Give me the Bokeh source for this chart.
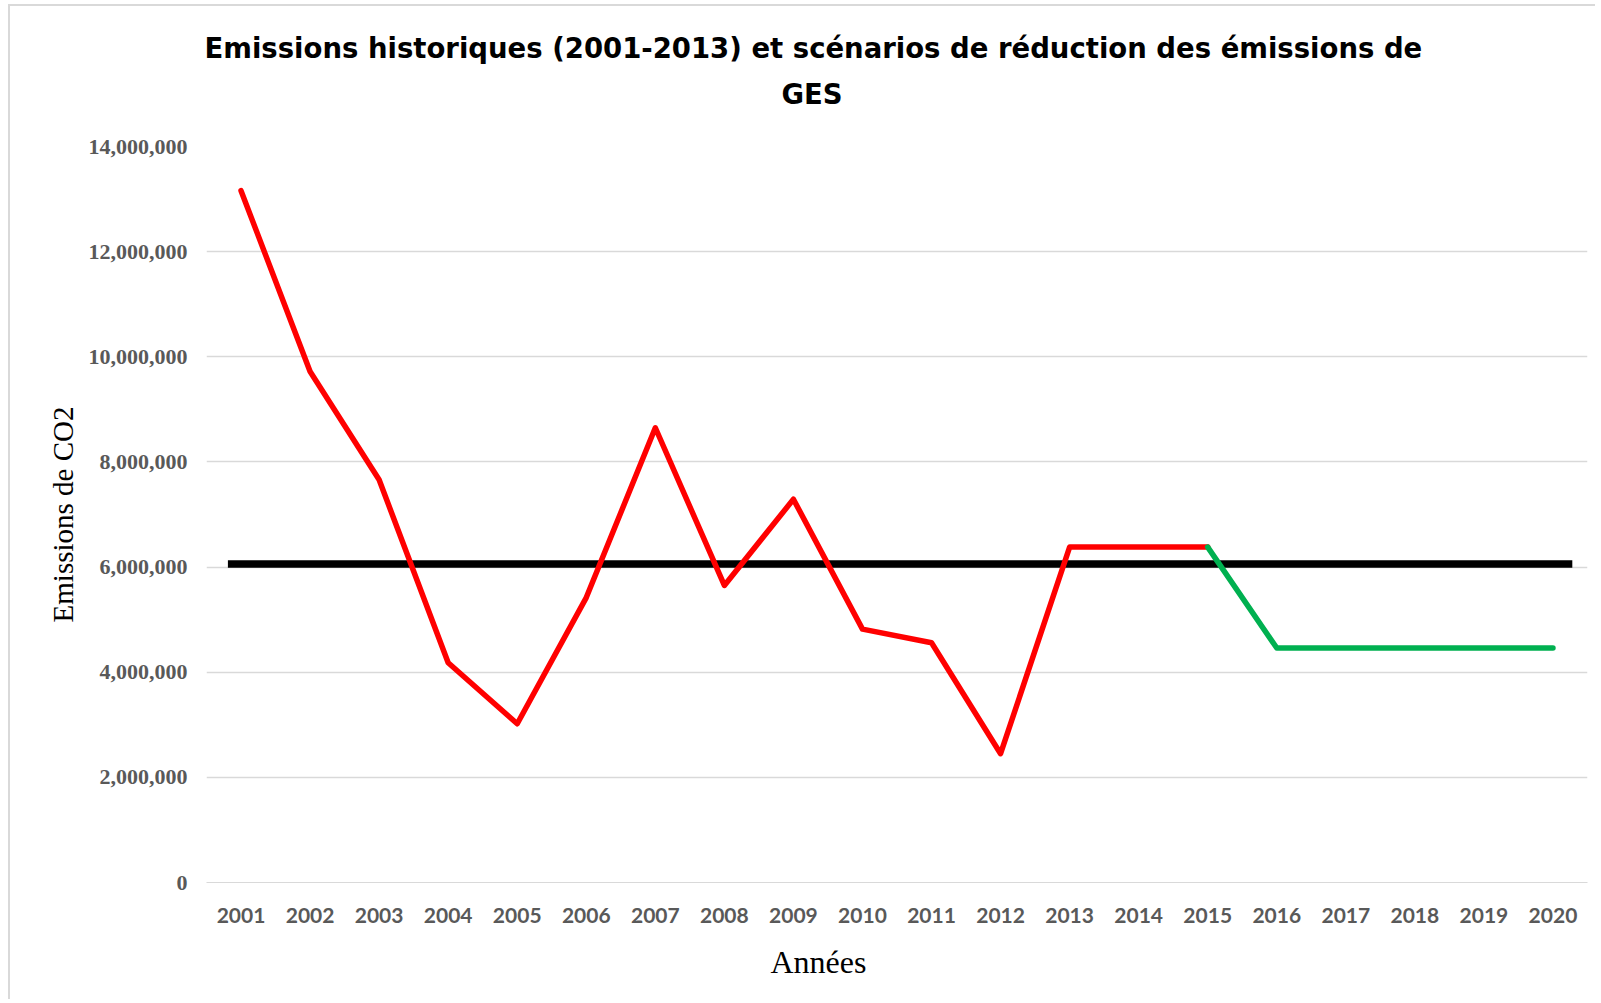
from bokeh.plotting import figure
from bokeh.models import FixedTicker, NumeralTickFormatter, Range1d, Title
from bokeh.embed import file_html
from bokeh.resources import INLINE

# ---- data ----
years = list(range(2001, 2021))
tick_labels = [str(y) for y in years]

hist_years = list(range(2001, 2016))
hist_values = [13160000, 9720000, 7660000, 4180000, 3020000, 5420000, 8650000,
               5650000, 7290000, 4820000, 4560000, 2450000, 6380000, 6380000, 6380000]

scen_years = list(range(2015, 2021))
scen_values = [6380000, 4460000, 4460000, 4460000, 4460000, 4460000]

ref_x = [2000.81, 2020.28]
ref_y = [6060000, 6060000]

y_ticks = [0, 2000000, 4000000, 6000000, 8000000, 10000000, 12000000, 14000000]

title_line1 = "Emissions historiques (2001-2013) et scénarios de réduction des émissions de"
title_line2 = "GES"
y_title = "Emissions de CO2"
x_title = "Années"

p = figure(width=1587, height=995, output_backend="svg", toolbar_location=None,
           title=None,
           x_range=Range1d(2000.5, 2020.5), y_range=Range1d(0, 14000000),
           min_border_left=196, min_border_right=10, min_border_top=140,
           min_border_bottom=119)
p.styles = {"border-left": "2px solid #d9d9d9", "border-top": "2px solid #d9d9d9",
            "margin-left": "8px", "margin-top": "4px"}
p.outline_line_color = None
p.background_fill_color = "white"
p.border_fill_color = "white"

# title (two lines, centred on the chart) with a spacer below them
spacer = Title(text=" ", align="left", offset=0, standoff=18,
               text_font="DejaVu Sans", text_font_size="10px", text_color="#ffffff")
t2 = Title(text=title_line2, align="left", offset=575, standoff=12,
           text_font="DejaVu Sans", text_font_style="bold",
           text_font_size="27.5px", text_color="#000000")
t1 = Title(text=title_line1, align="left", offset=-2, standoff=12,
           text_font="DejaVu Sans", text_font_style="bold",
           text_font_size="27.5px", text_color="#000000")
p.add_layout(spacer, "above")
p.add_layout(t2, "above")
p.add_layout(t1, "above")

# lines
p.line(ref_x, ref_y, line_color="#000000", line_width=7.5, line_cap="butt")
p.line(hist_years, hist_values, line_color="#FF0000", line_width=5.5,
       line_join="round", line_cap="round")
p.line(scen_years, scen_values, line_color="#00B050", line_width=5.5,
       line_join="round", line_cap="round")

# axes
xa = p.xaxis[0]
xa.ticker = FixedTicker(ticks=years)
xa.major_label_overrides = {y: s for y, s in zip(years, tick_labels)}
xa.major_tick_line_color = None
xa.minor_tick_line_color = None
xa.axis_line_color = "#d9d9d9"
xa.major_label_text_font = "Lato"
xa.major_label_text_font_style = "bold"
xa.major_label_text_font_size = "21px"
xa.major_label_text_color = "#595959"
xa.major_label_standoff = 19

ya = p.yaxis[0]
ya.ticker = FixedTicker(ticks=y_ticks)
ya.formatter = NumeralTickFormatter(format="0,0")
ya.major_tick_line_color = None
ya.minor_tick_line_color = None
ya.axis_line_color = None
ya.major_label_text_font = "Liberation Serif"
ya.major_label_text_font_style = "bold"
ya.major_label_text_font_size = "22px"
ya.major_label_text_color = "#595959"
ya.major_label_standoff = 13
ya.axis_label = y_title
ya.axis_label_text_font = "Liberation Serif"
ya.axis_label_text_font_style = "normal"
ya.axis_label_text_font_size = "29px"
ya.axis_label_text_color = "#000000"
ya.axis_label_standoff = 7

p.xgrid.grid_line_color = None
p.ygrid.grid_line_color = "#d9d9d9"
p.ygrid.grid_line_width = 1.5

tx = Title(text=x_title, align="left", offset=564, standoff=37, vertical_align="top",
           text_font="Liberation Serif", text_font_style="normal",
           text_font_size="32px", text_color="#000000")
p.add_layout(tx, "below")

open("out.html", "w").write(file_html(p, INLINE))
